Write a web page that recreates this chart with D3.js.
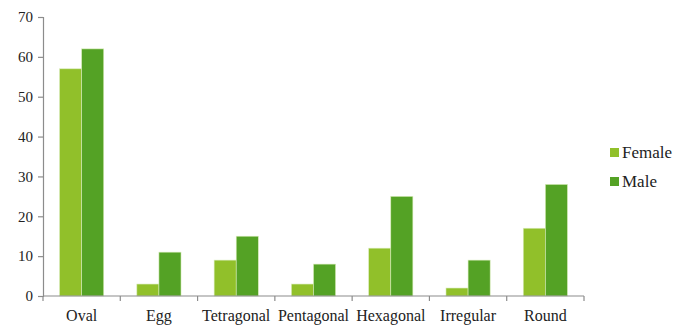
<!DOCTYPE html>
<html>
<head>
<meta charset="utf-8">
<script src="https://cdn.jsdelivr.net/npm/d3@7"></script>
</head>
<body style="margin:0;background:#fff">
<div id="wrap"></div>
<script>
// Face shape counts by sex
const categories = ["Oval", "Egg", "Tetragonal", "Pentagonal", "Hexagonal", "Irregular", "Round"];
const seriesNames = ["Female", "Male"];
const female = [57, 3, 9, 3, 12, 2, 17];
const male = [62, 11, 15, 8, 25, 9, 28];
const yTicks = [0, 10, 20, 30, 40, 50, 60, 70];
const colors = ["#91c02a", "#54a225"];

const W = 678, H = 325;
const svg = d3.select("#wrap").append("svg")
  .attr("id", "fig").attr("width", W).attr("height", H).style("display", "block");
const margin = { left: 43, right: 94, top: 17, bottom: 29 };

const x = d3.scaleBand().domain(categories).range([margin.left, W - margin.right]);
const y = d3.scaleLinear().domain([0, 70]).range([H - margin.bottom, margin.top]);
const inner = d3.scaleBand().domain(seriesNames)
  .range([0, x.bandwidth()]).paddingOuter(0.75).paddingInner(0);

const rows = categories.map((c, i) => ({ cat: c, vals: [female[i], male[i]] }));

// serif label text
function serif(sel, size) {
  sel.style("font-family", '"Liberation Serif"').style("font-size", size + "px");
}

// bars
const g = svg.append("g");
rows.forEach(r => {
  r.vals.forEach((v, j) => {
    g.append("rect")
      .attr("x", x(r.cat) + inner(seriesNames[j]))
      .attr("y", y(v))
      .attr("width", inner.bandwidth())
      .attr("height", y(0) - y(v))
      .attr("fill", colors[j])
      .attr("stroke", "#d8ebb8")
      .attr("stroke-width", 0.6);
  });
});

const axisColor = "#8c8c8c";

// y axis
const yAxis = svg.append("g")
  .attr("transform", `translate(${margin.left},0)`)
  .call(d3.axisLeft(y).tickValues(yTicks).tickSize(5).tickPadding(5));
yAxis.select(".domain").attr("stroke", axisColor).attr("stroke-width", 1.2);
yAxis.selectAll(".tick line").attr("stroke", axisColor).attr("stroke-width", 1.2);
yAxis.selectAll("text").attr("fill", "#222").call(serif, 15);

// x axis with ticks at category boundaries
const xAxisG = svg.append("g").attr("transform", `translate(0,${y(0)})`);
xAxisG.append("line")
  .attr("x1", margin.left).attr("x2", W - margin.right)
  .attr("y1", 0).attr("y2", 0)
  .attr("stroke", axisColor).attr("stroke-width", 1.2);
const bounds = categories.map(c => x(c)).concat([x(categories[categories.length - 1]) + x.bandwidth()]);
xAxisG.selectAll("line.tk").data(bounds).enter().append("line")
  .attr("class", "tk")
  .attr("x1", d => d).attr("x2", d => d)
  .attr("y1", 0).attr("y2", 5)
  .attr("stroke", axisColor).attr("stroke-width", 1.2);
xAxisG.selectAll("text.lbl").data(categories).enter().append("text")
  .attr("class", "lbl")
  .attr("x", d => x(d) + x.bandwidth() / 2)
  .attr("y", 25)
  .attr("text-anchor", "middle")
  .attr("fill", "#222")
  .call(serif, 16)
  .text(d => d);

// legend
const legend = svg.append("g").attr("transform", "translate(610,148)");
seriesNames.forEach((s, i) => {
  const row = legend.append("g").attr("transform", `translate(0,${i * 29})`);
  row.append("rect").attr("width", 9).attr("height", 9).attr("fill", colors[i]);
  row.append("text").attr("x", 12).attr("y", 10).attr("fill", "#222")
    .call(serif, 17).text(s);
});
</script>
</body>
</html>
